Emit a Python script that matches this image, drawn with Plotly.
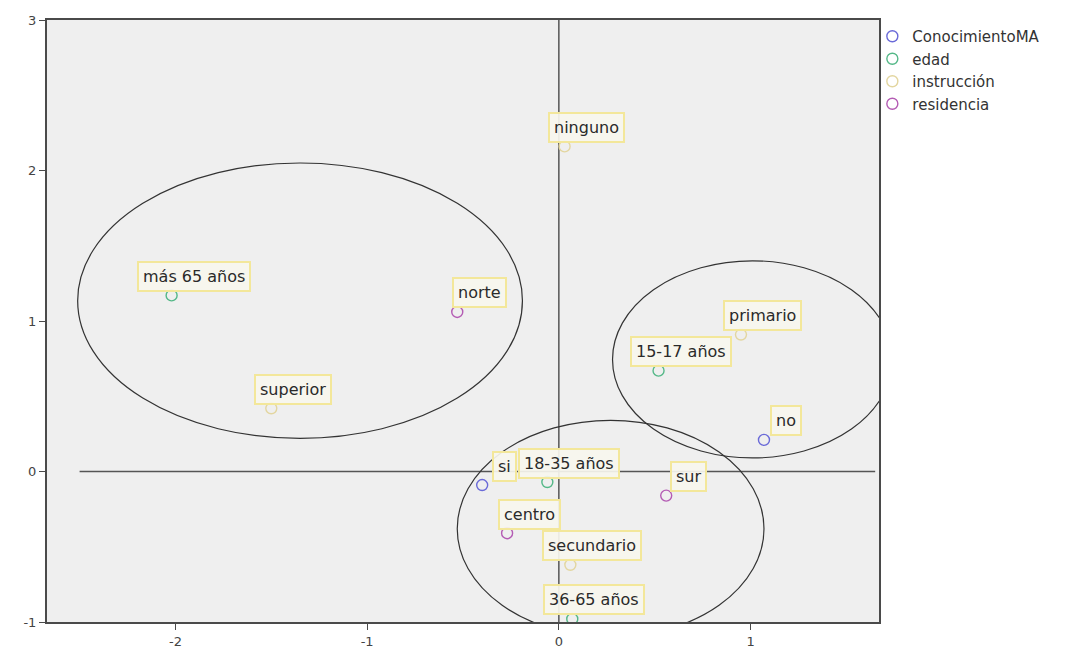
import plotly.graph_objects as go

# Category points (dimension 1, dimension 2)
conoc_labels = ["si", "no"]
conoc_x = [-0.40, 1.07]
conoc_y = [-0.09, 0.21]

edad_labels = ["15-17 años", "18-35 años", "36-65 años", "más 65 años"]
edad_x = [0.52, -0.06, 0.07, -2.02]
edad_y = [0.67, -0.07, -0.98, 1.17]

instr_labels = ["ninguno", "primario", "secundario", "superior"]
instr_x = [0.03, 0.95, 0.06, -1.50]
instr_y = [2.16, 0.91, -0.62, 0.42]

resid_labels = ["norte", "centro", "sur"]
resid_x = [-0.53, -0.27, 0.56]
resid_y = [1.06, -0.41, -0.16]

# Grouping ellipses: (x0, x1, y0, y1)
ellipses = [(-2.51, -0.19, 0.22, 2.05), (0.28, 1.74, 0.09, 1.40), (-0.53, 1.07, -1.10, 0.34)]

x_ticks = [-2, -1, 0, 1]
y_ticks = [-1, 0, 1, 2, 3]

series = [
    ("ConocimientoMA", conoc_labels, conoc_x, conoc_y, "#6a6ad8"),
    ("edad", edad_labels, edad_x, edad_y, "#55b888"),
    ("instrucción", instr_labels, instr_x, instr_y, "#e3d6a0"),
    ("residencia", resid_labels, resid_x, resid_y, "#b45cb4"),
]

FONT = "DejaVu Sans, Arial"

fig = go.Figure()
for name, labels, xs, ys, col in series:
    fig.add_trace(go.Scatter(
        x=xs, y=ys, mode="markers", name=name, text=labels,
        marker=dict(symbol="circle-open", size=11, color=col, line=dict(width=1.4, color=col)),
    ))
    for lab, xv, yv in zip(labels, xs, ys):
        fig.add_annotation(
            x=xv, y=yv, text=lab, showarrow=False, xshift=22, yshift=19,
            font=dict(family=FONT, size=16, color="#2a2a2a"),
            bgcolor="rgba(247,246,238,0.92)", bordercolor="#f3e79a", borderwidth=2, borderpad=4,
        )

# reference lines
fig.add_shape(type="line", x0=-2.50, x1=1.65, y0=0, y1=0, xref="x", yref="y",
              line=dict(color="#555555", width=1.5), layer="below")
fig.add_shape(type="line", x0=0, x1=0, y0=-1, y1=3, xref="x", yref="y",
              line=dict(color="#555555", width=1.5), layer="below")
for x0, x1, y0, y1 in ellipses:
    fig.add_shape(type="circle", x0=x0, x1=x1, y0=y0, y1=y1, xref="x", yref="y",
                  line=dict(color="#333333", width=1.2), layer="below")

axis_common = dict(
    showgrid=False, zeroline=False, showline=True, linecolor="#4a4a4a", linewidth=2,
    mirror=True, ticks="outside", ticklen=6, tickcolor="#4a4a4a", automargin=False,
    tickfont=dict(family=FONT, size=13, color="#444444"),
)
fig.update_xaxes(range=[-2.67, 1.67], tickvals=x_ticks,
                 ticktext=[str(v) for v in x_ticks], **axis_common)
fig.update_yaxes(range=[-1, 3], tickvals=y_ticks,
                 ticktext=[str(v) for v in y_ticks], **axis_common)

fig.update_layout(
    width=1072, height=655,
    margin=dict(l=39, r=201, t=12, b=41),
    plot_bgcolor="#efefef", paper_bgcolor="white",
    showlegend=True,
    legend=dict(x=0.992, y=1.0, xanchor="left", yanchor="top",
                font=dict(family=FONT, size=15, color="#333333"),
                bgcolor="rgba(0,0,0,0)", itemwidth=30, tracegroupgap=0),
)

fig.write_html("out.html")
